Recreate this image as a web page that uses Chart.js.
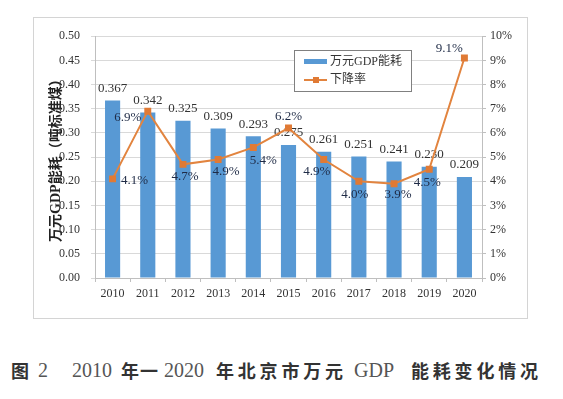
<!DOCTYPE html>
<html>
<head>
<meta charset="utf-8">
<script src="https://cdn.jsdelivr.net/npm/chart.js@4"></script>
<style>
  body { margin: 0; background: #fff; width: 563px; height: 399px; position: relative; overflow: hidden; }
  #box { position: absolute; left: 33px; top: 17px; width: 493px; height: 300px; border: 1px solid #d4d4d4; }
  #caption span { position: absolute; top: 358px; white-space: nowrap; line-height: 24px; }
  .cn { font-family: "Noto Sans CJK SC"; font-weight: bold; font-size: 18px; color: #333; letter-spacing: 3.8px; }
  .num { font-family: "Liberation Serif"; font-size: 20px; color: #555; }
</style>
</head>
<body>
<div id="box"><canvas id="myChart" width="493" height="300"></canvas></div>
<div id="caption">
  <span class="cn" style="left:11px">图</span>
  <span class="num" style="left:38px">2</span>
  <span class="num" style="left:72px">2010</span>
  <span class="cn" style="left:121px;letter-spacing:1px">年一</span>
  <span class="num" style="left:164px">2020</span>
  <span class="cn" style="left:216px">年北京市万元</span>
  <span class="num" style="left:354px">GDP</span>
  <span class="cn" style="left:411px">能耗变化情况</span>
</div>
<script>
// data
let years = ['2010','2011','2012','2013','2014','2015','2016','2017','2018','2019','2020'];
let energy = [0.367, 0.342, 0.325, 0.309, 0.293, 0.275, 0.261, 0.251, 0.241, 0.230, 0.209];
let rate = [4.1, 6.9, 4.7, 4.9, 5.4, 6.2, 4.9, 4.0, 3.9, 4.5, 9.1];
// where each rate label sits relative to its point
let rateOffsets = [[22,2],[-20,6],[2,12],[8,12],[10,13],[0,-12],[-7,12],[-4,13],[4,11],[-2,13],[-15,-9]];

let serif = 'Liberation Serif';
let blue = '#5899d4';
let orange = '#e2843f';

let labelPlugin = {
    id: 'labels',
    beforeDatasetsDraw(chart) {
        let ctx = chart.ctx;
        let meta = chart.getDatasetMeta(1);
        ctx.save();
        ctx.font = '13px ' + serif;
        ctx.fillStyle = '#333';
        ctx.textAlign = 'center';
        ctx.textBaseline = 'middle';
        meta.data.forEach((bar, i) => {
            ctx.fillText(energy[i].toFixed(3), bar.x, bar.y - 12);
        });
        ctx.restore();
    },
    afterDatasetsDraw(chart) {
        let ctx = chart.ctx;
        let meta = chart.getDatasetMeta(0);
        ctx.save();
        ctx.font = '13px ' + serif;
        ctx.fillStyle = '#1f2b46';
        ctx.textAlign = 'center';
        ctx.textBaseline = 'middle';
        meta.data.forEach((pt, i) => {
            ctx.fillText(rate[i].toFixed(1) + '%', pt.x + rateOffsets[i][0], pt.y + rateOffsets[i][1]);
        });
        ctx.restore();
    },
    afterDraw(chart) {
        // legend box inside plot
        let ctx = chart.ctx;
        ctx.save();
        ctx.fillStyle = '#fff';
        ctx.fillRect(260, 32, 117, 41);
        ctx.strokeStyle = '#808080';
        ctx.lineWidth = 1;
        ctx.strokeRect(260.5, 32.5, 117, 41);
        ctx.fillStyle = blue;
        ctx.fillRect(270, 41, 23, 5);
        ctx.strokeStyle = orange;
        ctx.lineWidth = 2;
        ctx.beginPath();
        ctx.moveTo(270, 62);
        ctx.lineTo(293, 62);
        ctx.stroke();
        ctx.fillStyle = '#e07a35';
        ctx.fillRect(279, 59, 6, 6);
        ctx.fillStyle = '#333';
        ctx.font = '12px ' + serif + ', "Noto Sans CJK SC"';
        ctx.textBaseline = 'middle';
        ctx.fillText('万元GDP能耗', 296, 44);
        ctx.fillText('下降率', 296, 62);
        ctx.restore();
    }
};

let myChart = document.getElementById('myChart').getContext('2d');
let chart = new Chart(myChart, {
    type: 'bar',
    data: {
        labels: years,
        datasets: [{
            type: 'line',
            label: '下降率',
            data: rate,
            yAxisID: 'y1',
            borderColor: orange,
            borderWidth: 2,
            pointStyle: 'rect',
            pointRadius: 3.5,
            pointBackgroundColor: '#e07a35',
            pointBorderColor: '#e07a35',
            tension: 0,
            order: 0
        }, {
            label: '万元GDP能耗',
            data: energy,
            yAxisID: 'y',
            backgroundColor: blue,
            barPercentage: 0.43,
            categoryPercentage: 1,
            order: 1
        }]
    },
    options: {
        responsive: false,
        animation: false,
        layout: { padding: { top: 18, left: 0, right: 0, bottom: 0 } },
        plugins: { legend: { display: false }, tooltip: { enabled: false } },
        scales: {
            x: {
                grid: { display: true, drawOnChartArea: false, tickLength: 4, color: '#bfbfbf' },
                border: { color: '#bfbfbf' },
                ticks: { font: { family: serif, size: 12 }, color: '#333', padding: 5 },
                afterFit: s => { s.height = 40; }
            },
            y: {
                min: 0, max: 0.5,
                grid: { color: '#d9d9d9', tickLength: 4 },
                border: { color: '#bfbfbf' },
                ticks: { stepSize: 0.05, font: { family: serif, size: 12 }, color: '#333', padding: 11,
                    callback: v => v.toFixed(2) },
                title: { display: true, text: '万元GDP能耗（吨标准煤）', color: '#222',
                    font: { family: serif + ', "Noto Sans CJK SC"', size: 14, weight: 'bold' },
                    padding: { top: 14, bottom: 0 } },
                afterFit: s => { s.width = 61; }
            },
            y1: {
                position: 'right',
                min: 0, max: 10,
                grid: { drawOnChartArea: false, tickLength: 4, color: '#bfbfbf' },
                border: { color: '#bfbfbf' },
                ticks: { stepSize: 1, font: { family: serif, size: 12 }, color: '#333', padding: 4,
                    callback: v => v + '%' },
                afterFit: s => { s.width = 45; }
            }
        }
    },
    plugins: [labelPlugin]
});
</script>
</body>
</html>
